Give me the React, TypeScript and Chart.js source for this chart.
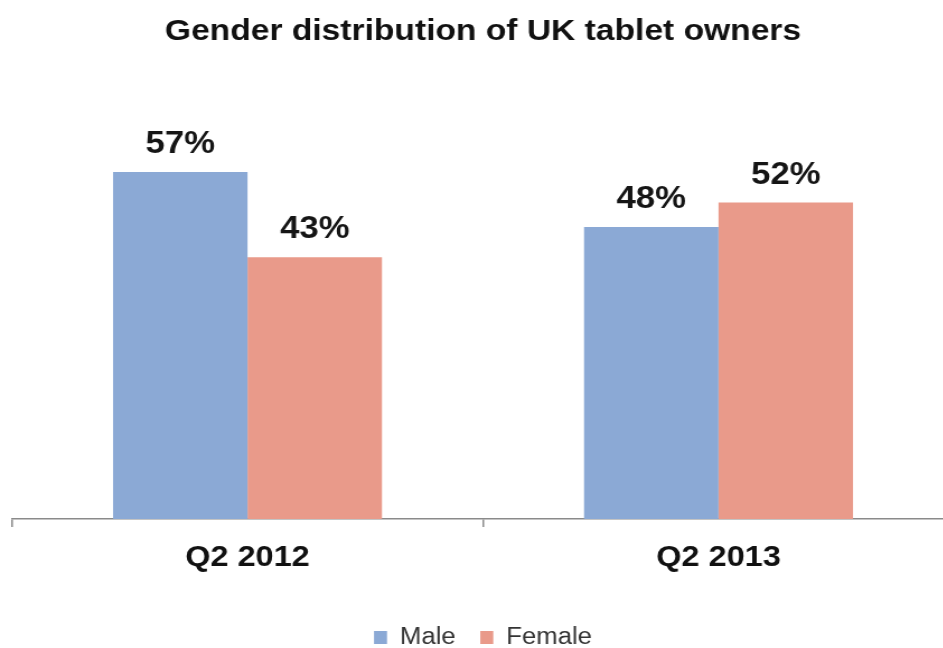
import React, { useEffect, useRef } from "react";
import { Chart, registerables } from "chart.js";

Chart.register(...registerables);

const categories = ["Q2 2012", "Q2 2013"];
const maleValues = [57, 48];
const femaleValues = [43, 52];
const seriesNames = ["Male", "Female"];
const titleText = "Gender distribution of UK tablet owners";

const FONT = "'Liberation Sans', Arial, sans-serif";

// horizontal stretch applied to the canvas (the reference text is wide)
const CANVAS_W = 863;
const CANVAS_H = 659;
const SX = 966 / CANVAS_W;
const LEGEND_FONT = 23;
const LEGEND_PAD = 22;
const PLOT_BOTTOM = 519;

const valueLabels = {
  id: "valueLabels",
  afterDatasetsDraw(chart: any) {
    const ctx = chart.ctx;
    ctx.save();
    ctx.font = `bold 31px ${FONT}`;
    ctx.fillStyle = "#151515";
    ctx.textAlign = "center";
    ctx.textBaseline = "alphabetic";
    chart.data.datasets.forEach((ds: any, di: number) => {
      const meta = chart.getDatasetMeta(di);
      meta.data.forEach((bar: any, i: number) => {
        ctx.fillText(`${ds.data[i]}%`, bar.x, bar.y - 19);
      });
    });
    ctx.restore();
  },
};

export default function App() {
  const ref = useRef<HTMLCanvasElement | null>(null);
  useEffect(() => {
    if (!ref.current) return;
    const legendHeight = LEGEND_FONT + LEGEND_PAD + 10;
    const legendTop = CANVAS_H - legendHeight;
    const chart = new Chart(ref.current, {
      type: "bar",
      data: {
        labels: categories,
        datasets: [
          {
            label: seriesNames[0],
            data: maleValues,
            backgroundColor: "#8BA9D5",
            borderWidth: 0,
            categoryPercentage: 0.571,
            barPercentage: 1,
          },
          {
            label: seriesNames[1],
            data: femaleValues,
            backgroundColor: "#E99A8A",
            borderWidth: 0,
            categoryPercentage: 0.571,
            barPercentage: 1,
          },
        ],
      },
      options: {
        animation: false,
        responsive: false,
        devicePixelRatio: 1,
        layout: { padding: { left: 12 / SX, right: 12 / SX, top: 0, bottom: 0 } },
        plugins: {
          title: {
            display: true,
            text: titleText,
            color: "#111111",
            font: { family: FONT, size: 30, weight: "bold", lineHeight: 1.2 },
            padding: { top: 14, bottom: 43 },
          },
          legend: {
            display: true,
            position: "bottom",
            labels: {
              boxWidth: 13 / SX,
              boxHeight: 13,
              padding: LEGEND_PAD,
              color: "#333333",
              font: { family: FONT, size: LEGEND_FONT },
            },
          },
          tooltip: { enabled: false },
        },
        scales: {
          x: {
            grid: {
              drawOnChartArea: false,
              drawTicks: true,
              tickLength: 8,
              color: "#8a8a8a",
              lineWidth: 1.5,
            },
            border: { display: true, color: "#8a8a8a", width: 1.5 },
            ticks: {
              color: "#111111",
              padding: 14,
              font: { family: FONT, size: 29, weight: "bold", lineHeight: 1.2 },
            },
            afterFit: (scale: any) => {
              scale.height = legendTop - PLOT_BOTTOM;
            },
          },
          y: {
            display: false,
            min: 0,
            max: 70,
          },
        },
      },
      plugins: [valueLabels],
    });
    return () => chart.destroy();
  }, []);
  return (
    <div
      style={{
        position: "absolute",
        left: 0,
        top: 0,
        width: 943,
        height: 648,
        overflow: "hidden",
        background: "#ffffff",
      }}
    >
      <canvas
        ref={ref}
        width={CANVAS_W}
        height={CANVAS_H}
        style={{
          display: "block",
          width: CANVAS_W,
          height: CANVAS_H,
          transform: `scaleX(${SX})`,
          transformOrigin: "0 0",
        }}
      />
    </div>
  );
}
